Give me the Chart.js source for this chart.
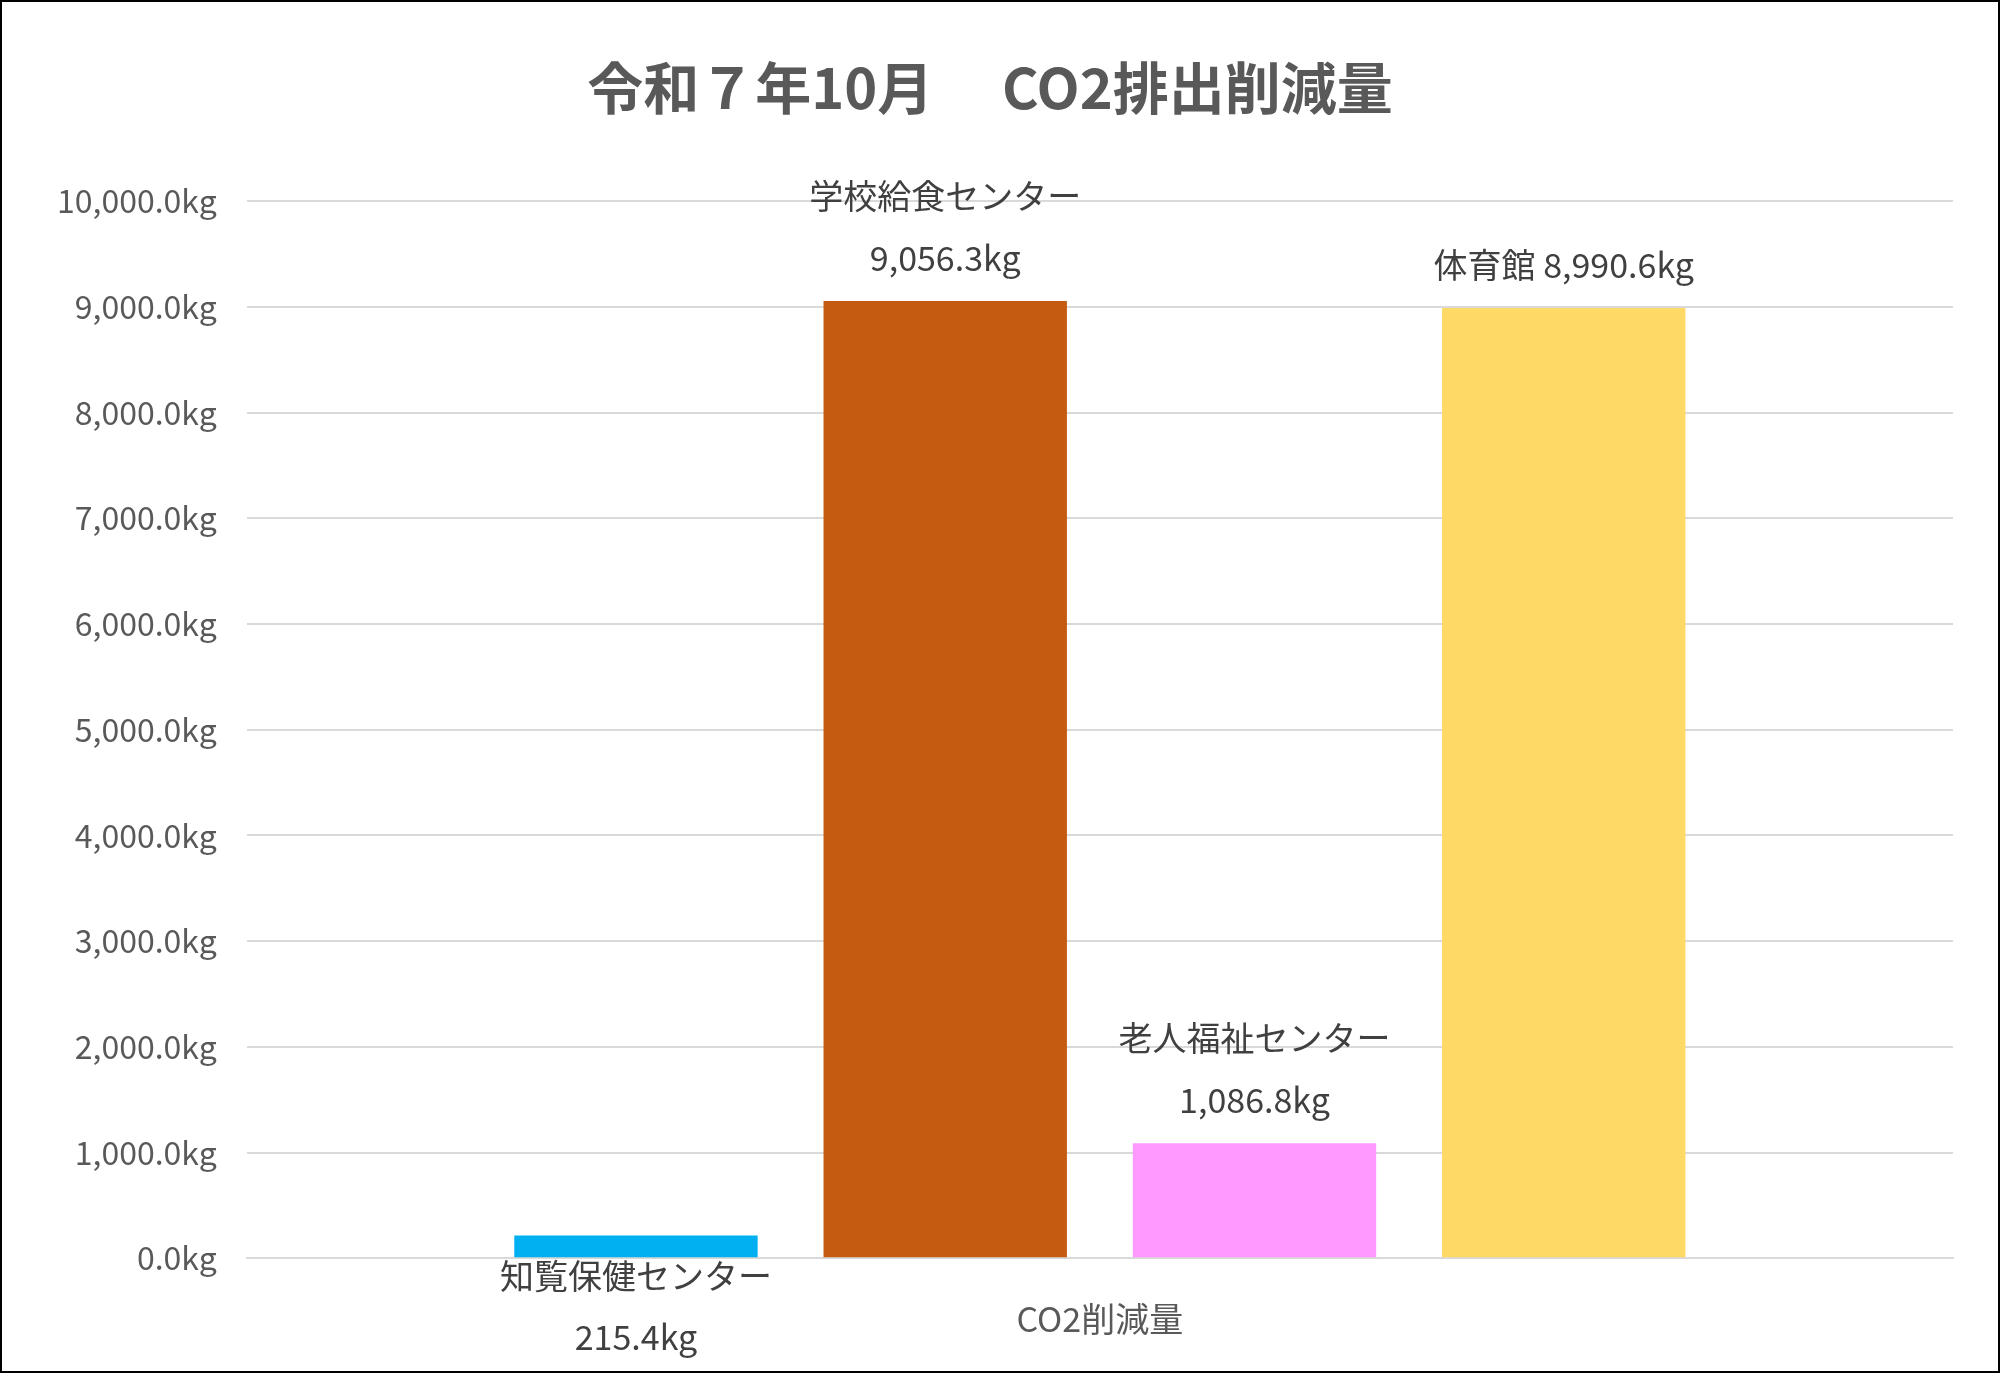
<!DOCTYPE html>
<html><head><meta charset="utf-8">
<script src="https://cdn.jsdelivr.net/npm/chart.js@4"></script>
<style>html,body{margin:0;padding:0;background:#fff}#wrap{width:1996px;height:1369px;border:2px solid #000;position:relative}canvas{display:block}</style>
</head><body><div id="wrap"><canvas id="c" width="1996" height="1369"></canvas></div>
<script>
const categories = ["CO2削減量"];
const seriesNames = ["知覧保健センター","学校給食センター","老人福祉センター","体育館"];
const seriesValues = [215.4, 9056.3, 1086.8, 8990.6];
const seriesColors = ["#00B0F0","#C55A11","#FF99FF","#FFD966"];
const FONT = "'Noto Sans CJK JP','Noto Sans',sans-serif";
const fmt = v => v.toLocaleString('en-US',{minimumFractionDigits:1,maximumFractionDigits:1})+"kg";

const labelPlugin = {
  id:'labels',
  afterDatasetsDraw(chart){
    const ctx = chart.ctx;
    ctx.save();
    ctx.fillStyle = '#404040';
    ctx.textAlign = 'center';
    ctx.textBaseline = 'middle';
    chart.data.datasets.forEach((ds,i)=>{
      const el = chart.getDatasetMeta(i).data[0];
      const name = seriesNames[i], val = fmt(seriesValues[i]);
      ctx.font = "34px " + FONT;
      if (i===0){
        ctx.fillText(name, el.x, el.base + 19);
        ctx.fillText(val, el.x, el.base + 80);
      } else if (i===3){
        ctx.fillText(name + " " + val, el.x, el.y - 43);
      } else {
        ctx.fillText(name, el.x, el.y - 105);
        ctx.fillText(val, el.x, el.y - 43);
      }
    });
    ctx.restore();
  }
};

new Chart(document.getElementById('c'), {
  type:'bar',
  data:{
    labels: categories,
    datasets: seriesNames.map((n,i)=>({label:n, data:[seriesValues[i]], backgroundColor:seriesColors[i],
      barPercentage:0.787, categoryPercentage:0.725}))
  },
  options:{
    responsive:false, animation:false, devicePixelRatio:1,
    layout:{padding:{top:0,right:45,bottom:0,left:25}},
    plugins:{
      legend:{display:false}, tooltip:{enabled:false},
      title:{display:true, text:"令和７年10月　 CO2排出削減量", color:'#595959',
        font:{family:FONT, size:56, weight:'bold'}, padding:{top:52,bottom:80}}
    },
    scales:{
      y:{min:0,max:10000,ticks:{stepSize:1000,color:'#595959',font:{family:FONT,size:32},padding:30,
          callback:v=>fmt(v)},
        grid:{color:'#D9D9D9',lineWidth:2,drawTicks:false}, border:{display:false}},
      x:{ticks:{color:'#595959',font:{family:FONT,size:34},padding:32},
        grid:{display:false}, border:{color:'#D9D9D9',width:2}}
    }
  },
  plugins:[labelPlugin]
});
</script></body></html>
